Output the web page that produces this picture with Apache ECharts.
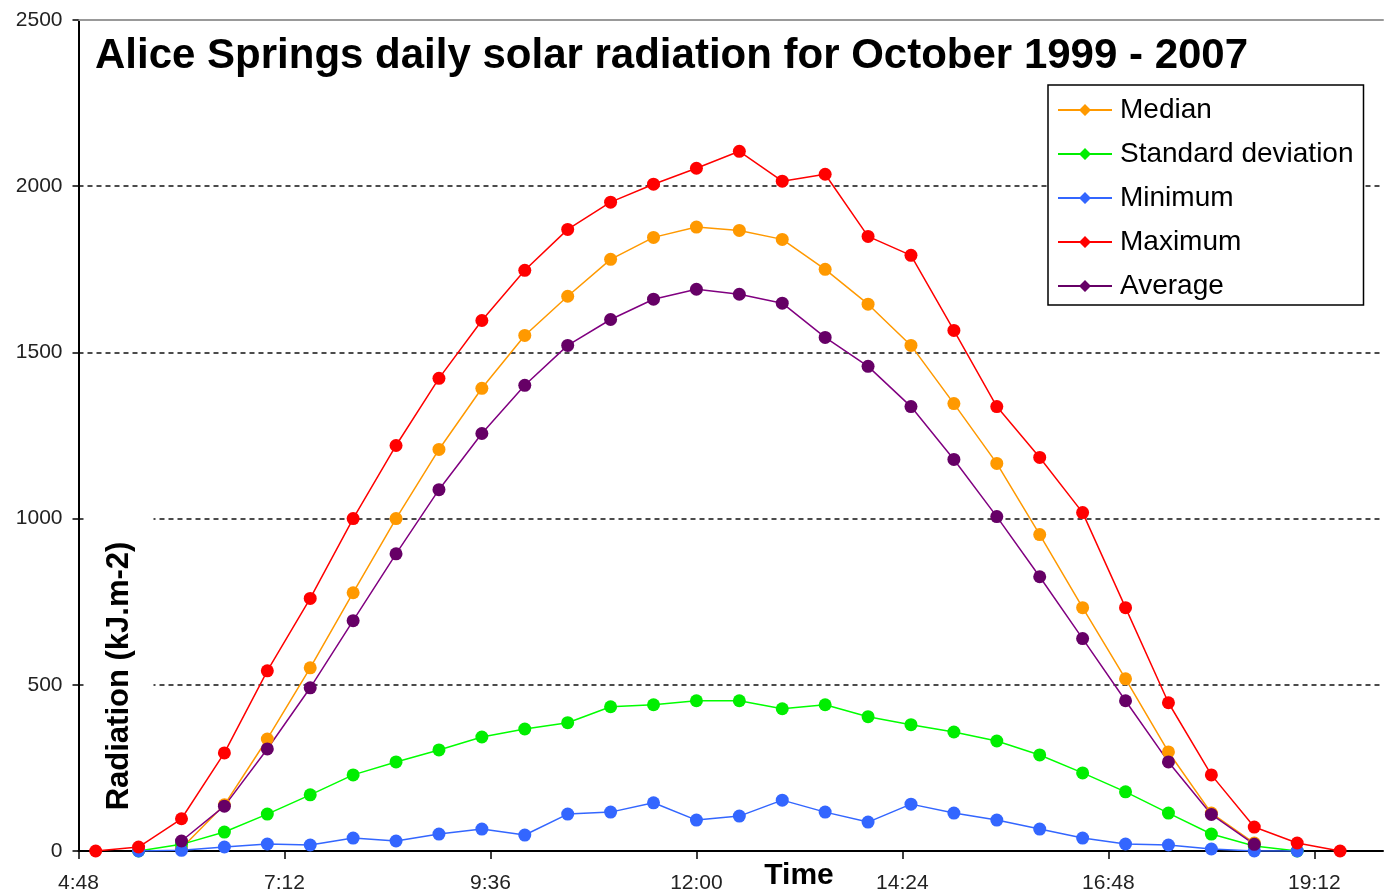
<!DOCTYPE html>
<html>
<head>
<meta charset="utf-8">
<title>Alice Springs daily solar radiation</title>
<script src="https://cdn.jsdelivr.net/npm/echarts@6/dist/echarts.min.js"></script>
<style>
    html, body { margin: 0; padding: 0; background: #fff; }
    #chart { width: 1386px; height: 896px; }
</style>
</head>
<body>
<div id="chart"></div>
<script>
// half-hourly readings, time of day in hours (5:00 ... 19:30)
const hours = [5, 5.5, 6, 6.5, 7, 7.5, 8, 8.5, 9, 9.5, 10, 10.5, 11, 11.5, 12,
    12.5, 13, 13.5, 14, 14.5, 15, 15.5, 16, 16.5, 17, 17.5, 18, 18.5, 19, 19.5];

// radiation, kJ.m-2
const median = [null, null, 8, 139, 337, 551, 777, 1000, 1208, 1392, 1551, 1669, 1780, 1846, 1877,
    1867, 1840, 1750, 1645, 1521, 1346, 1166, 952, 732, 518, 298, 114, 24, null, null];
const stdDev = [null, 0, 20, 57, 111, 169, 229, 268, 304, 343, 367, 386, 434, 440, 452,
    452, 428, 440, 404, 380, 358, 331, 289, 235, 178, 114, 51, 15, 0, null];
const minimum = [null, 0, 2, 12, 21, 18, 39, 30, 51, 66, 48, 111, 117, 145, 93,
    105, 153, 117, 87, 141, 114, 93, 66, 39, 21, 18, 6, 0, 0, null];
const maximum = [0, 12, 97, 295, 542, 760, 1000, 1220, 1422, 1596, 1747, 1870, 1952, 2006, 2054,
    2105, 2015, 2036, 1849, 1792, 1566, 1337, 1184, 1018, 732, 446, 229, 72, 24, 0];
const average = [null, null, 30, 135, 307, 491, 693, 894, 1087, 1256, 1401, 1521, 1599, 1660, 1690,
    1675, 1648, 1545, 1458, 1337, 1178, 1006, 825, 639, 452, 268, 110, 20, null, null];

const FONT = '"Liberation Sans", Arial, sans-serif';

// legend icon: short line with a diamond in the middle
const legendIcon = 'path://M0 5H22L27 0L32 5H54V7H32L27 12L22 7H0Z';

const chart = echarts.init(document.getElementById('chart'));

const toPairs = (vals) => hours.map((h, i) => [h, vals[i]]).filter(p => p[1] !== null);

const hhmm = (v) => {
    const mins = Math.round(v * 60);
    const m = mins % 60;
    return Math.floor(mins / 60) + ':' + (m < 10 ? '0' + m : m);
};

const makeSeries = (name, vals, color, lineColor) => ({
    name: name,
    type: 'line',
    data: toPairs(vals),
    symbol: 'circle',
    symbolSize: 13,
    showAllSymbol: true,
    itemStyle: { color: color },
    lineStyle: { color: lineColor || color, width: 1.5 },
    emphasis: { disabled: true },
    animation: false
});

const option = {
    backgroundColor: '#fff',
    title: {
        text: 'Alice Springs daily solar radiation for October 1999 - 2007',
        left: 95,
        top: 35,
        padding: 0,
        textStyle: { fontFamily: FONT, fontSize: 42, fontWeight: 'bold', color: '#000' }
    },
    legend: {
        orient: 'vertical',
        left: 1048,
        top: 85,
        padding: [10, 10, 4, 10],
        itemGap: 14,
        itemWidth: 54,
        itemHeight: 12,
        borderColor: '#000',
        borderWidth: 1.5,
        backgroundColor: '#fff',
        textStyle: { fontFamily: FONT, fontSize: 28, color: '#000', lineHeight: 30, padding: [0, 0, 0, 3] },
        data: ['Median', 'Standard deviation', 'Minimum', 'Maximum', 'Average']
            .map(n => ({ name: n, icon: legendIcon }))
    },
    grid: { left: 78.5, right: 3, top: 20, bottom: 45 },
    xAxis: [
        {
            type: 'value',
            min: 4.8,
            max: 20,
            interval: 2.4,
            axisLine: { lineStyle: { color: '#000', width: 2 } },
            axisTick: { length: 8, lineStyle: { color: '#000', width: 1.5 } },
            axisLabel: {
                formatter: hhmm, fontFamily: FONT, fontSize: 21, color: '#222',
                margin: 22, showMaxLabel: false
            },
            splitLine: { show: false }
        },
        {
            type: 'value',
            position: 'top',
            min: 4.8,
            max: 20,
            axisLine: { lineStyle: { color: '#999', width: 2 } },
            axisTick: { show: false },
            axisLabel: { show: false },
            splitLine: { show: false }
        }
    ],
    yAxis: {
        type: 'value',
        min: 0,
        max: 2500,
        interval: 500,
        axisLine: { show: true, lineStyle: { color: '#000', width: 2 } },
        axisTick: { show: true, length: 6, lineStyle: { color: '#000', width: 1.5 } },
        axisLabel: { formatter: (v) => String(v), fontFamily: FONT, fontSize: 21, color: '#222', margin: 16 },
        splitLine: {
            show: true,
            showMinLine: false,
            showMaxLine: false,
            lineStyle: { color: '#111', width: 1.5, type: [5, 4] }
        }
    },
    graphic: [
        {
            type: 'text',
            x: 119,
            y: 663,
            rotation: Math.PI / 2,
            z: 100,
            style: {
                text: 'Radiation (kJ.m-2)',
                fontFamily: FONT,
                fontSize: 31,
                fontWeight: 'bold',
                fill: '#000',
                align: 'center',
                verticalAlign: 'middle',
                backgroundColor: '#fff',
                padding: [24, 36, 14, 10]
            }
        },
        {
            type: 'text',
            x: 799,
            y: 876,
            z: 100,
            style: {
                text: 'Time',
                fontFamily: FONT,
                fontSize: 30,
                fontWeight: 'bold',
                fill: '#000',
                align: 'center',
                verticalAlign: 'middle'
            }
        }
    ],
    series: [
        makeSeries('Median', median, '#FF9900'),
        makeSeries('Standard deviation', stdDev, '#00EE00', '#00FF00'),
        makeSeries('Minimum', minimum, '#3366FF'),
        makeSeries('Maximum', maximum, '#FF0000'),
        makeSeries('Average', average, '#660066', '#800080')
    ]
};

chart.setOption(option);

window.addEventListener('resize', () => chart.resize());
</script>
</body>
</html>
